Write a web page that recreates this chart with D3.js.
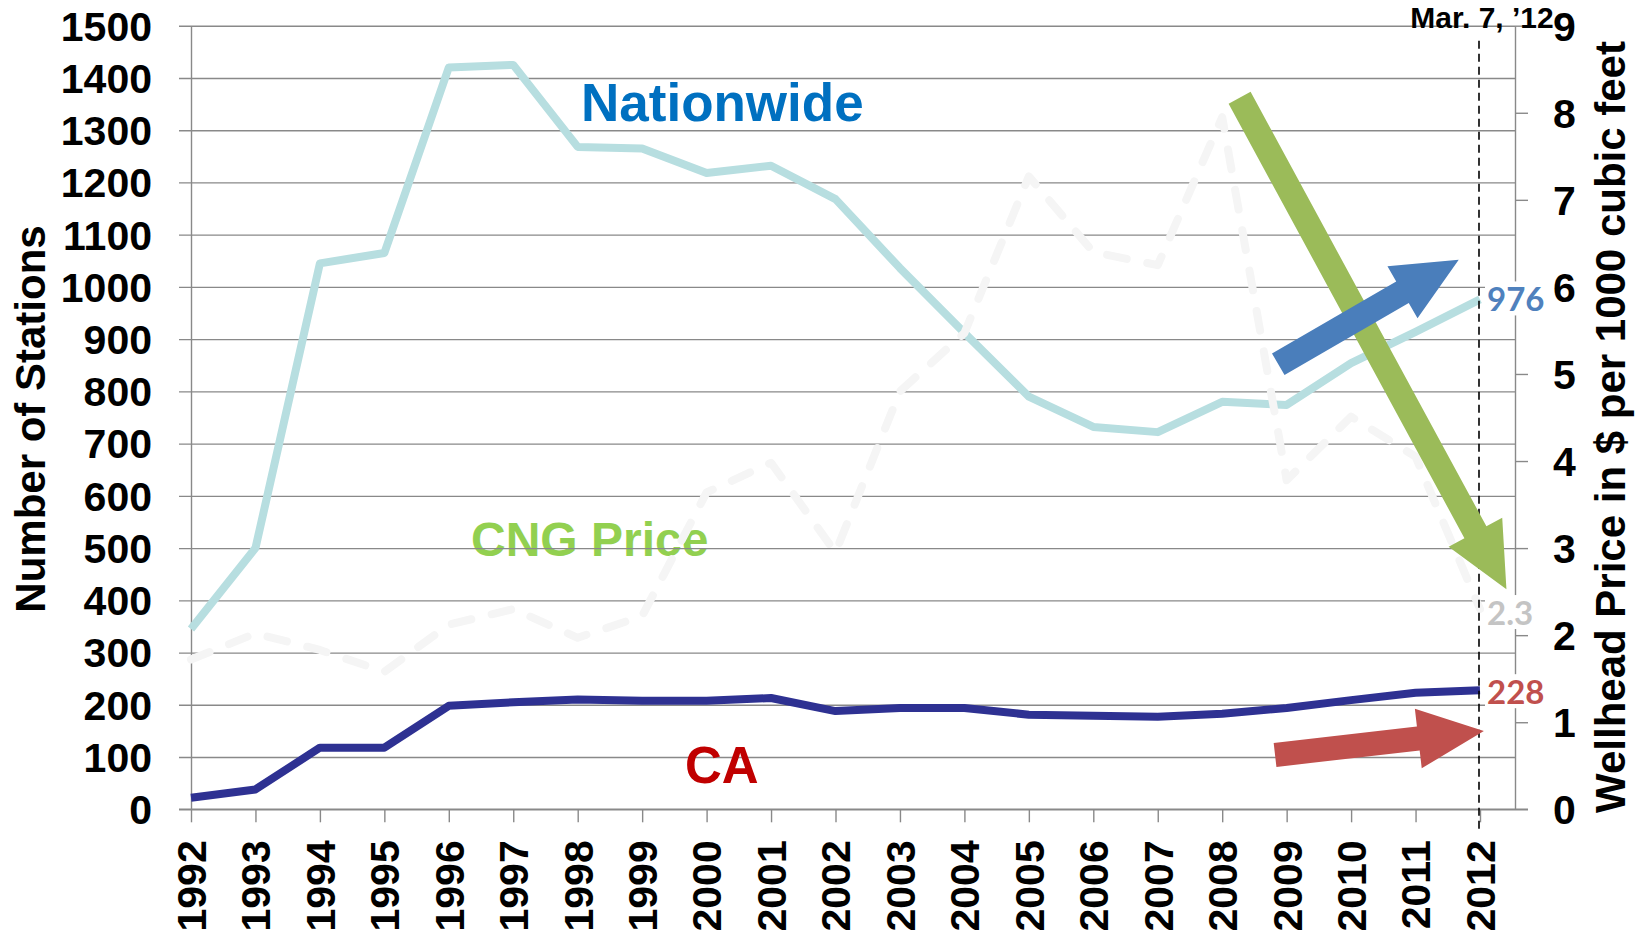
<!DOCTYPE html>
<html>
<head>
<meta charset="utf-8">
<script src="https://cdn.jsdelivr.net/npm/d3@7"></script>
<style>
  body { margin: 0; background: #fff; }
  text { font-family: "Liberation Sans", Arial, sans-serif; font-weight: bold; }
  .valLabel { font-family: Lato, "Open Sans", sans-serif; }
</style>
</head>
<body>
<script>
(function(){

//data
var years = [1992, 1993, 1994, 1995, 1996, 1997, 1998, 1999, 2000, 2001, 2002,
             2003, 2004, 2005, 2006, 2007, 2008, 2009, 2010, 2011, 2012];

var nationwide = [345, 500, 1045, 1065, 1420, 1425, 1268, 1265, 1218, 1232, 1168,
                  1036, 912, 790, 732, 722, 780, 774, 854, 914, 976];

var caStations = [22, 38, 118, 118, 198, 205, 210, 208, 208, 213, 188,
                  194, 194, 181, 179, 177, 183, 194, 209, 223, 228];

var cngPrice = [1.72, 2.02, 1.83, 1.58, 2.12, 2.30, 1.97, 2.22, 3.64, 3.98, 2.95,
                4.80, 5.47, 7.27, 6.40, 6.25, 7.95, 3.78, 4.51, 4.05, 2.30];

var leftTicks = [0, 100, 200, 300, 400, 500, 600, 700, 800, 900, 1000, 1100, 1200, 1300, 1400, 1500];
var rightTicks = [0, 1, 2, 3, 4, 5, 6, 7, 8, 9];

//arrow annotations, in data units (year, stations)
var arrowTails = [[2008.27, 1362], [2008.87, 852], [2008.82, 104]];
var arrowTips  = [[2012.41, 421], [2011.67, 1052], [2012.06, 150]];
var arrowColors = ["#9bbb59", "#4a7ebb", "#c0504d"];

var width = 1642,
    height = 931,
    plotLeft = 191,
    plotRight = 1515,
    plotTop = 25.7,
    plotBottom = 809.3;

var xScale = d3.scaleLinear()
    .domain([1992, 2012])
    .range([plotLeft, 1480]);

var yLeft = d3.scaleLinear()
    .domain([0, 1500])
    .range([plotBottom, plotTop]);

var yRight = d3.scaleLinear()
    .domain([0, 9])
    .range([plotBottom, plotTop]);

var svg = d3.select("body")
    .append("svg")
    .attr("width", width)
    .attr("height", height);

//big series label that sits behind the grid
svg.append("text")
    .attr("x", 471)
    .attr("y", 556)
    .attr("font-size", 48)
    .attr("fill", "#92d050")
    .text("CNG Price");

//left axis with gridlines
var leftAxis = svg.append("g")
    .attr("transform", "translate(" + plotLeft + ",0)")
    .call(d3.axisLeft(yLeft)
        .tickValues(leftTicks)
        .tickFormat(d3.format("d"))
        .tickSize(12)
        .tickSizeOuter(0)
        .tickPadding(27));

leftAxis.selectAll(".tick line")
    .attr("x1", plotRight - plotLeft)
    .attr("stroke", "#898989")
    .attr("stroke-width", 1.4);

leftAxis.selectAll(".tick text")
    .attr("font-size", 41)
    .attr("fill", "#000")
    .attr("dy", "0.35em");

leftAxis.select(".domain")
    .attr("stroke", "#898989")
    .attr("stroke-width", 1.4);

//right axis
var rightAxis = svg.append("g")
    .attr("transform", "translate(" + plotRight + ",0)")
    .call(d3.axisRight(yRight)
        .tickValues(rightTicks)
        .tickSize(13)
        .tickSizeOuter(0)
        .tickPadding(25));

rightAxis.selectAll("line, .domain")
    .attr("stroke", "#898989")
    .attr("stroke-width", 1.4);

rightAxis.selectAll(".tick text")
    .attr("font-size", 41)
    .attr("fill", "#000")
    .attr("dy", "0.35em");

//bottom axis
var xAxis = svg.append("g")
    .attr("transform", "translate(0," + plotBottom + ")")
    .call(d3.axisBottom(xScale)
        .tickValues(years)
        .tickFormat(d3.format("d"))
        .tickSize(13)
        .tickSizeOuter(0));

xAxis.select(".domain").remove();
xAxis.append("line")
    .attr("x1", plotLeft - 12)
    .attr("x2", plotRight + 13)
    .attr("stroke", "#898989")
    .attr("stroke-width", 1.4);

xAxis.selectAll(".tick line")
    .attr("stroke", "#898989")
    .attr("stroke-width", 1.4);

xAxis.selectAll(".tick text")
    .attr("font-size", 41)
    .attr("fill", "#000")
    .attr("text-anchor", "end")
    .attr("transform", "rotate(-90)")
    .attr("x", -31)
    .attr("y", 0)
    .attr("dy", "0.35em");

//axis titles
svg.append("text")
    .attr("transform", "translate(45,419) rotate(-90)")
    .attr("text-anchor", "middle")
    .attr("font-size", 42)
    .text("Number of Stations");

svg.append("text")
    .attr("transform", "translate(1625,427) rotate(-90)")
    .attr("text-anchor", "middle")
    .attr("font-size", 42)
    .text("Wellhead Price in $ per 1000 cubic feet");

//series lines
var lineLeft = d3.line()
    .x(function(d, i){ return xScale(years[i]); })
    .y(function(d){ return yLeft(d); });

var lineRight = d3.line()
    .x(function(d, i){ return xScale(years[i]); })
    .y(function(d){ return yRight(d); });

svg.append("path")
    .datum(nationwide)
    .attr("class", "nationwide")
    .attr("d", lineLeft)
    .attr("fill", "none")
    .attr("stroke", "#b7dee0")
    .attr("stroke-width", 8)
    .attr("stroke-linejoin", "round");

svg.append("path")
    .datum(cngPrice)
    .attr("class", "cng")
    .attr("d", lineRight)
    .attr("fill", "none")
    .attr("stroke", "#f5f5f5")
    .attr("stroke-width", 8)
    .attr("stroke-linejoin", "round")
    .attr("stroke-linecap", "round")
    .attr("stroke-dasharray", "20,21");

svg.append("path")
    .datum(caStations)
    .attr("class", "ca")
    .attr("d", lineLeft)
    .attr("fill", "none")
    .attr("stroke", "#2e3192")
    .attr("stroke-width", 8)
    .attr("stroke-linejoin", "round");

//date marker
var xEnd = xScale(2012);
svg.append("line")
    .attr("x1", xEnd - 1)
    .attr("x2", xEnd - 1)
    .attr("y1", plotTop + 15)
    .attr("y2", plotBottom + 23)
    .attr("stroke", "#000")
    .attr("stroke-width", 1.6)
    .attr("stroke-dasharray", "8,5");

svg.append("text")
    .attr("x", xEnd + 2)
    .attr("y", 28)
    .attr("text-anchor", "middle")
    .attr("font-size", 30)
    .text("Mar. 7, \u201912");

//end value labels with white boxes
var endLabels = [
    {text: "976", y: yLeft(nationwide[20]), color: "#4f81bd"},
    {text: "2.3", y: yRight(cngPrice[20]) + 4, color: "#c4c4c4"},
    {text: "228", y: yLeft(caStations[20]) + 2, color: "#c0504d"}
];

endLabels.forEach(function(l){
    svg.append("rect")
        .attr("x", xEnd + 5)
        .attr("y", l.y - 18)
        .attr("width", 60)
        .attr("height", 34)
        .attr("fill", "#fff");
    svg.append("text")
        .attr("class", "valLabel")
        .attr("x", xEnd + 7)
        .attr("y", l.y)
        .attr("dy", "0.36em")
        .attr("font-size", 33)
        .attr("fill", l.color)
        .text(l.text);
});

//series names
svg.append("text")
    .attr("x", 581)
    .attr("y", 121)
    .attr("font-size", 53)
    .attr("fill", "#0070c0")
    .text("Nationwide");

svg.append("text")
    .attr("x", 685)
    .attr("y", 783)
    .attr("font-size", 51)
    .attr("fill", "#c00000")
    .text("CA");

//block arrows
var shaftWidths = [25, 25, 24],
    headWidths = [61, 60, 60],
    headLengths = [65, 65, 66];

function arrowPoints(i){
    var t = [xScale(arrowTails[i][0]), yLeft(arrowTails[i][1])],
        p = [xScale(arrowTips[i][0]), yLeft(arrowTips[i][1])];
    var dx = p[0] - t[0], dy = p[1] - t[1],
        len = Math.sqrt(dx * dx + dy * dy),
        ux = dx / len, uy = dy / len,
        nx = -uy, ny = ux;
    var w = shaftWidths[i] / 2, hw = headWidths[i] / 2,
        bx = p[0] - ux * headLengths[i], by = p[1] - uy * headLengths[i];
    return [
        [t[0] + nx * w, t[1] + ny * w],
        [bx + nx * w, by + ny * w],
        [bx + nx * hw, by + ny * hw],
        p,
        [bx - nx * hw, by - ny * hw],
        [bx - nx * w, by - ny * w],
        [t[0] - nx * w, t[1] - ny * w]
    ];
};

var arrowLine = d3.line();

svg.selectAll(".arrow")
    .data([0, 1, 2])
    .enter()
    .append("path")
    .attr("class", "arrow")
    .attr("d", function(i){ return arrowLine(arrowPoints(i)) + "Z"; })
    .attr("fill", function(i){ return arrowColors[i]; });

})();
</script>
</body>
</html>
